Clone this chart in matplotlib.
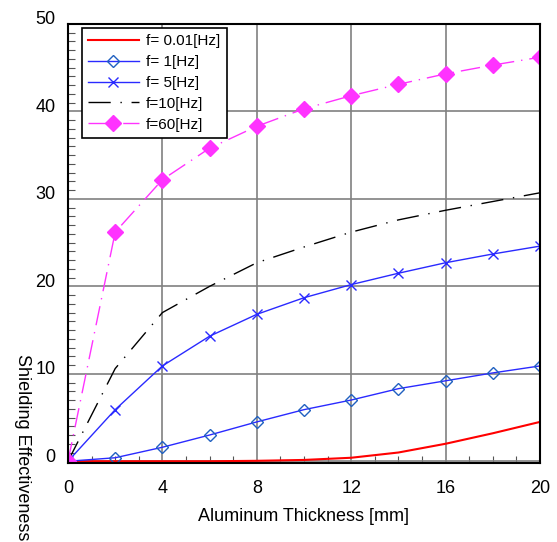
import numpy as np
import matplotlib
matplotlib.use("Agg")
import matplotlib.pyplot as plt
import matplotlib.transforms as mtransforms

plt.rcParams['font.family'] = ['Liberation Sans', 'DejaVu Sans']

thickness = [0, 2, 4, 6, 8, 10, 12, 14, 16, 18, 20]
se_001 = [0, 0, 0, 0, 0.05, 0.15, 0.4, 1.0, 2.0, 3.2, 4.5]
se_1 = [0, 0.4, 1.6, 3.0, 4.5, 5.9, 7.0, 8.3, 9.2, 10.1, 10.9]
se_5 = [0, 5.9, 10.9, 14.3, 16.8, 18.7, 20.2, 21.5, 22.7, 23.7, 24.6]
se_10 = [0, 10.6, 17.0, 20.0, 22.7, 24.5, 26.2, 27.6, 28.7, 29.7, 30.7]
se_60 = [0, 26.2, 32.2, 35.8, 38.3, 40.3, 41.8, 43.1, 44.3, 45.3, 46.2]

fig = plt.figure(figsize=(5.57, 5.42), dpi=100)
ax = fig.add_axes([68/557, 1 - 463/542, (540 - 68)/557, (463 - 24)/542])

ax.plot(thickness, se_001, color='#ff0000', linewidth=1.5, label='f= 0.01[Hz]')
ax.plot(thickness, se_1, color='#2a2aff', linewidth=1, marker='D', markersize=6,
        markerfacecolor='none', markeredgecolor='#2060c0', markeredgewidth=1,
        label='f= 1[Hz]')
ax.plot(thickness, se_5, color='#2a2aff', linewidth=1, marker='x', markersize=7,
        markeredgewidth=1, label='f= 5[Hz]')
ax.plot(thickness, se_10, color='black', linewidth=1, dashes=(16, 7, 1, 7),
        label='f=10[Hz]')
ax.plot(thickness, se_60, color='#ff33ff', linewidth=1, dashes=(14, 5, 1, 5),
        marker='D', markersize=8, label='f=60[Hz]')

ax.set_xlim(0, 20)
ax.set_ylim(-0.2, 50)
ax.set_xticks(np.arange(0, 21, 4))
ax.set_yticks(np.arange(0, 51, 10))
ax.set_xticks(np.arange(0, 21, 1), minor=True)
ax.set_yticks(np.arange(0, 51, 1), minor=True)
ax.grid(True, which='major', color='#808080', linewidth=1.2)
ax.set_axisbelow(True)
ax.tick_params(which='both', direction='in', labelsize=13)
ax.tick_params(which='major', length=0, pad=9)
ax.tick_params(which='minor', length=5, width=0.8, color='#555555')
ax.tick_params(axis='x', which='major', pad=12)

offset = mtransforms.ScaledTranslation(0, 6/100, fig.dpi_scale_trans)
for lbl in ax.get_yticklabels():
    lbl.set_transform(lbl.get_transform() + offset)

for sp in ax.spines.values():
    sp.set_linewidth(1.5)

ax.set_xlabel('Aluminum Thickness [mm]', fontsize=13, labelpad=8)
fig.text(22/557, 1 - 354/542, 'Shielding Effectiveness', rotation=270,
         fontsize=13, ha='center', va='top')

leg = ax.legend(loc='upper left', bbox_to_anchor=(14/472, 1 - 4/439),
                borderaxespad=0, fontsize=11, handlelength=3.3,
                handletextpad=0.5, fancybox=False, framealpha=1,
                edgecolor='black', labelspacing=0.45)
leg.get_frame().set_linewidth(1.2)

fig.savefig('out.png', dpi=100)
